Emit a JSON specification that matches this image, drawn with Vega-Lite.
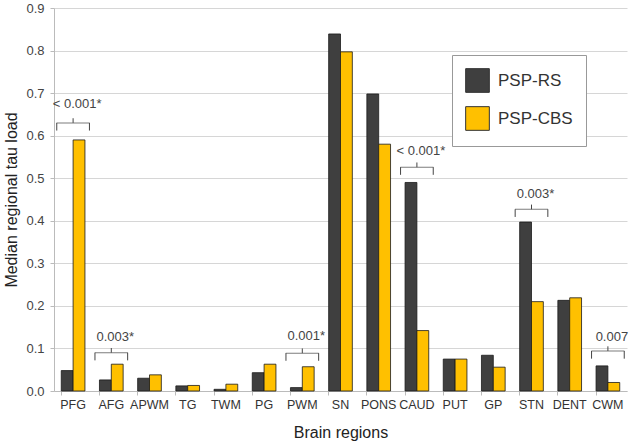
{
  "$schema": "https://vega.github.io/schema/vega-lite/v6.json",
  "width": 573,
  "height": 383,
  "autosize": "none",
  "padding": {"left": 54, "top": 8, "right": 5, "bottom": 55},
  "config": {
    "font": "Liberation Sans",
    "view": {"stroke": null},
    "axis": {"gridColor": "#d6d6d6", "domainColor": "#bbbbbb", "tickColor": "#bbbbbb"}
  },
  "datasets": {
    "bars": [
      {"region": "PFG", "group": "PSP-RS", "value": 0.048},
      {"region": "PFG", "group": "PSP-CBS", "value": 0.59},
      {"region": "AFG", "group": "PSP-RS", "value": 0.026},
      {"region": "AFG", "group": "PSP-CBS", "value": 0.063},
      {"region": "APWM", "group": "PSP-RS", "value": 0.030},
      {"region": "APWM", "group": "PSP-CBS", "value": 0.038},
      {"region": "TG", "group": "PSP-RS", "value": 0.012},
      {"region": "TG", "group": "PSP-CBS", "value": 0.013},
      {"region": "TWM", "group": "PSP-RS", "value": 0.004},
      {"region": "TWM", "group": "PSP-CBS", "value": 0.016},
      {"region": "PG", "group": "PSP-RS", "value": 0.043},
      {"region": "PG", "group": "PSP-CBS", "value": 0.063},
      {"region": "PWM", "group": "PSP-RS", "value": 0.008},
      {"region": "PWM", "group": "PSP-CBS", "value": 0.057},
      {"region": "SN", "group": "PSP-RS", "value": 0.839},
      {"region": "SN", "group": "PSP-CBS", "value": 0.797},
      {"region": "PONS", "group": "PSP-RS", "value": 0.698},
      {"region": "PONS", "group": "PSP-CBS", "value": 0.580},
      {"region": "CAUD", "group": "PSP-RS", "value": 0.490},
      {"region": "CAUD", "group": "PSP-CBS", "value": 0.142},
      {"region": "PUT", "group": "PSP-RS", "value": 0.075},
      {"region": "PUT", "group": "PSP-CBS", "value": 0.075},
      {"region": "GP", "group": "PSP-RS", "value": 0.084},
      {"region": "GP", "group": "PSP-CBS", "value": 0.056},
      {"region": "STN", "group": "PSP-RS", "value": 0.397},
      {"region": "STN", "group": "PSP-CBS", "value": 0.210},
      {"region": "DENT", "group": "PSP-RS", "value": 0.213},
      {"region": "DENT", "group": "PSP-CBS", "value": 0.219},
      {"region": "CWM", "group": "PSP-RS", "value": 0.059},
      {"region": "CWM", "group": "PSP-CBS", "value": 0.020}
    ],
    "brackets": [
      {"region": "PFG", "line": 0.630, "down": 0.612, "up": 0.641, "texty": 0.674, "label": "< 0.001*"},
      {"region": "AFG", "line": 0.090, "down": 0.072, "up": 0.101, "texty": 0.128, "label": "0.003*"},
      {"region": "PWM", "line": 0.089, "down": 0.071, "up": 0.100, "texty": 0.130, "label": "0.001*"},
      {"region": "CAUD", "line": 0.526, "down": 0.508, "up": 0.537, "texty": 0.563, "label": "< 0.001*"},
      {"region": "STN", "line": 0.427, "down": 0.409, "up": 0.438, "texty": 0.464, "label": "0.003*"},
      {"region": "CWM", "line": 0.094, "down": 0.076, "up": 0.105, "texty": 0.127, "label": "0.007"}
    ]
  },
  "encoding": {
    "x": {
      "field": "region", "type": "nominal",
      "sort": ["PFG","AFG","APWM","TG","TWM","PG","PWM","SN","PONS","CAUD","PUT","GP","STN","DENT","CWM"],
      "scale": {"paddingInner": 0.38, "paddingOuter": 0.19},
      "axis": {
        "title": "Brain regions", "titleFontSize": 16, "titleFontWeight": "normal", "titleColor": "#222",
        "titlePadding": 14,
        "labelAngle": 0, "labelFontSize": 12.5, "labelColor": "#333", "labelPadding": 3,
        "tickSize": 4, "bandPosition": 0, "domainColor": "#bbbbbb"
      }
    }
  },
  "layer": [
    {
      "data": {"name": "bars"},
      "mark": {"type": "bar", "stroke": "#1a1a1a", "strokeWidth": 0.8},
      "encoding": {
        "xOffset": {"field": "group", "type": "nominal", "sort": ["PSP-RS", "PSP-CBS"], "scale": {"paddingInner": 0, "paddingOuter": 0}},
        "y": {
          "field": "value", "type": "quantitative",
          "scale": {"domain": [0, 0.9], "nice": false},
          "axis": {
            "title": "Median regional tau load", "titleFontSize": 16, "titleFontWeight": "normal", "titleColor": "#222",
            "titlePadding": 6,
            "values": [0, 0.1, 0.2, 0.3, 0.4, 0.5, 0.6, 0.7, 0.8, 0.9],
            "labelFontSize": 13, "labelColor": "#444", "labelPadding": 6,
            "tickSize": 4, "grid": true
          }
        },
        "color": {
          "field": "group", "type": "nominal", "sort": ["PSP-RS", "PSP-CBS"],
          "scale": {"domain": ["PSP-RS", "PSP-CBS"], "range": ["#3f3f3f", "#ffc000"]},
          "legend": {
            "title": null, "orient": "none", "legendX": 398, "legendY": 47,
            "strokeColor": "#999999", "fillColor": "#ffffff", "padding": 13,
            "symbolType": "square", "symbolSize": 560, "symbolStrokeColor": "#333", "symbolStrokeWidth": 1,
            "labelFontSize": 17, "labelColor": "#333", "labelOffset": 8, "rowPadding": 9
          }
        }
      }
    },
    {
      "data": {"name": "brackets"},
      "mark": {"type": "tick", "color": "#444", "thickness": 1, "size": 33},
      "encoding": {"y": {"field": "line", "type": "quantitative"}}
    },
    {
      "data": {"name": "brackets"},
      "mark": {"type": "rule", "color": "#444", "strokeWidth": 1},
      "encoding": {
        "x": {"field": "region", "type": "nominal", "bandPosition": -0.19},
        "y": {"field": "line", "type": "quantitative"},
        "y2": {"field": "down"}
      }
    },
    {
      "data": {"name": "brackets"},
      "mark": {"type": "rule", "color": "#444", "strokeWidth": 1},
      "encoding": {
        "x": {"field": "region", "type": "nominal", "bandPosition": 1.19},
        "y": {"field": "line", "type": "quantitative"},
        "y2": {"field": "down"}
      }
    },
    {
      "data": {"name": "brackets"},
      "mark": {"type": "rule", "color": "#444", "strokeWidth": 1},
      "encoding": {
        "y": {"field": "line", "type": "quantitative"},
        "y2": {"field": "up"}
      }
    },
    {
      "data": {"name": "brackets"},
      "mark": {"type": "text", "fontSize": 13, "color": "#444", "baseline": "middle", "dx": 4},
      "encoding": {
        "y": {"field": "texty", "type": "quantitative"},
        "text": {"field": "label"}
      }
    }
  ]
}
